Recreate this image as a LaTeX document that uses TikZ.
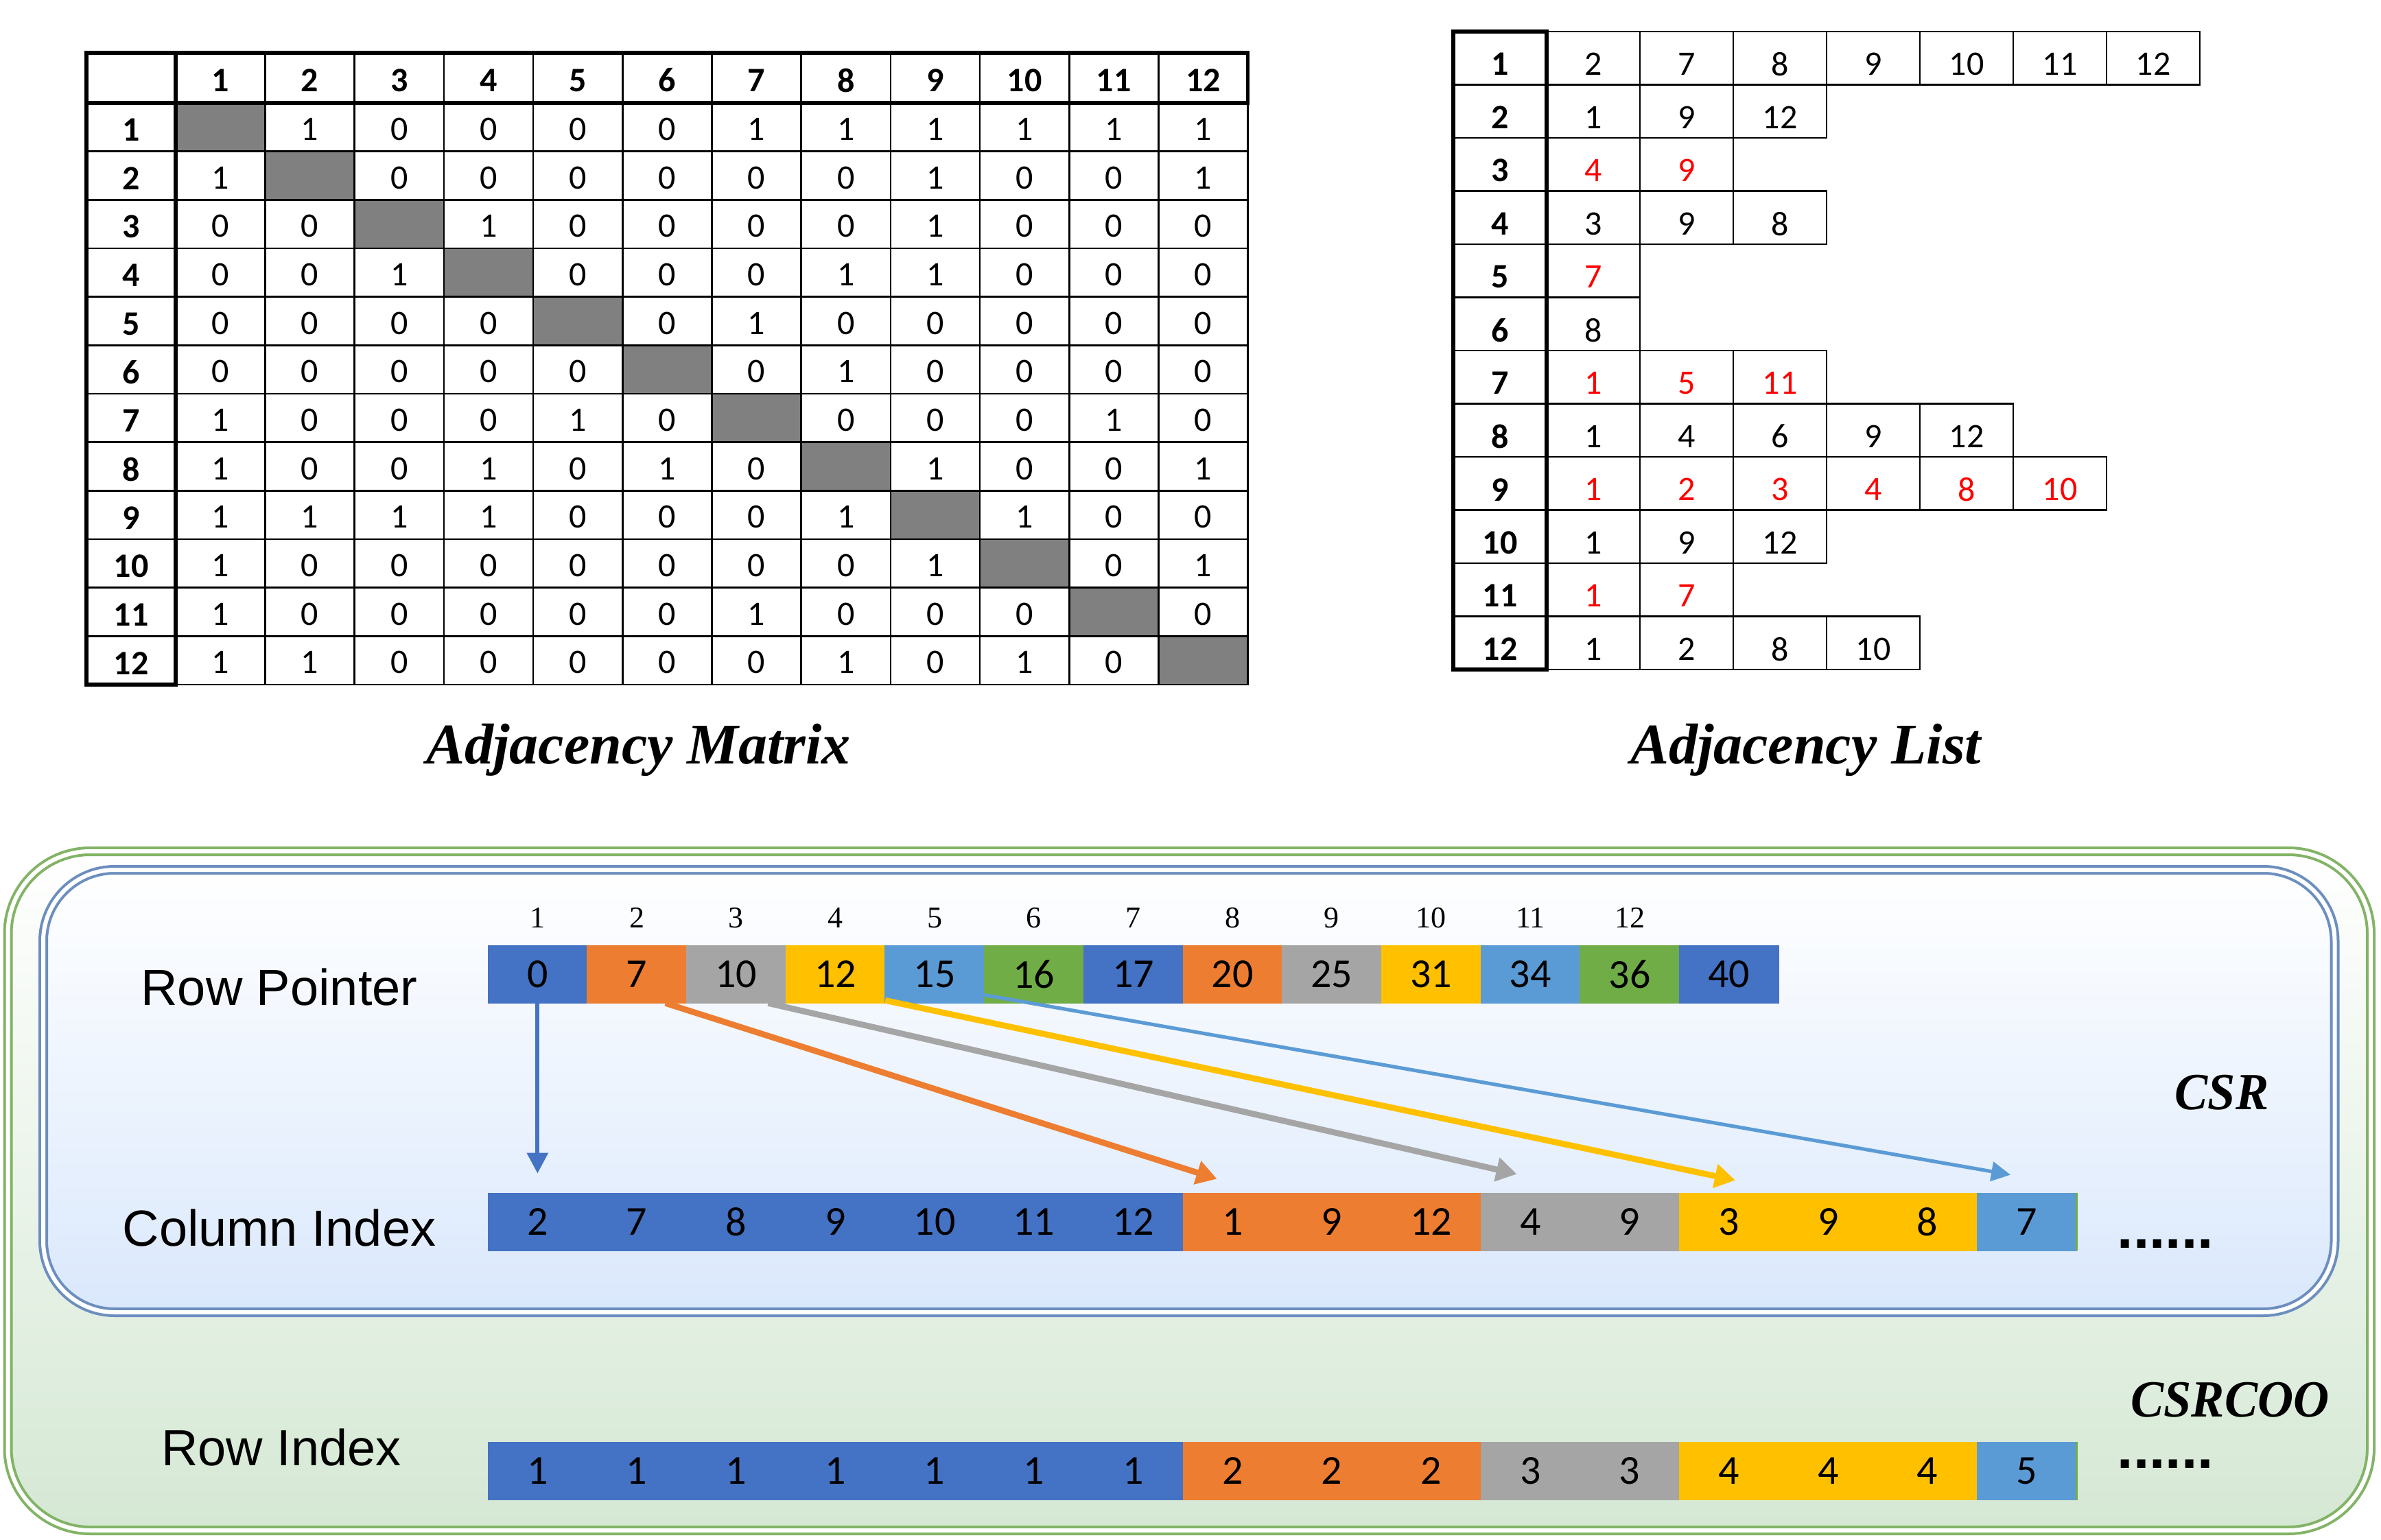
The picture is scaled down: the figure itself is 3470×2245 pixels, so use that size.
\documentclass[tikz,border=0pt]{standalone}
\usepackage{fontspec}
\usepackage{graphicx}
\setmainfont{Liberation Serif}
\newfontfamily\calfont{Carlito}
\newfontfamily\arialfont{Liberation Sans}
\usetikzlibrary{arrows.meta,calc}
\definecolor{cblue}{HTML}{4472C4}
\definecolor{corange}{HTML}{ED7D31}
\definecolor{cgray}{HTML}{A5A5A5}
\definecolor{cyellow}{HTML}{FFC000}
\definecolor{clblue}{HTML}{5B9BD5}
\definecolor{cgreen}{HTML}{70AD47}
\definecolor{diag}{HTML}{808080}
\definecolor{boxgreen}{HTML}{82B366}
\definecolor{boxblue}{HTML}{6C8EBF}
\definecolor{fillgreen}{HTML}{D5E8D4}
\definecolor{fillblue}{HTML}{DAE8FC}
\definecolor{red}{HTML}{FF0000}
\newcommand\rd[1]{\textcolor{red}{#1}}
\tikzset{
  thinln/.style={line width=0.65pt, black},
  thickln/.style={line width=1.4pt, black},
  mcell/.style={inner sep=0pt, font=\calfont\fontsize{12.5pt}{15pt}\selectfont},
  mhead/.style={inner sep=0pt, font=\calfont\bfseries\fontsize{12.5pt}{15pt}\selectfont},
  acell/.style={rectangle, inner sep=0pt, minimum width=36.175pt, minimum height=21pt,
     font=\calfont\fontsize{15pt}{18pt}\selectfont, text=black},
  idx/.style={inner sep=0pt, font=\fontsize{11pt}{13pt}\selectfont},
  lab/.style={inner sep=0pt, font=\arialfont\fontsize{18.5pt}{22pt}\selectfont},
  capt/.style={inner sep=0pt, anchor=base, font=\bfseries\itshape\fontsize{21pt}{25pt}\selectfont},
  fmt/.style={inner sep=0pt, anchor=base, font=\bfseries\itshape\fontsize{19pt}{23pt}\selectfont},
  dotsty/.style={inner sep=0pt, anchor=base west, font=\arialfont\bfseries\fontsize{21pt}{21pt}\selectfont},
  arrbase/.style={line cap=butt},
}
\begin{document}
\begin{tikzpicture}[x=0.25pt,y=-0.25pt]
\useasboundingbox (0,0) rectangle (3470,2245);

% ================= Adjacency matrix =================
\foreach \rr in {1,...,12}
  \fill[diag] ({126+\rr*130.2},{150+(\rr-1)*70.67}) rectangle +(130.2,70.67);
\foreach \k in {1,...,12}
  \draw[thinln] ({126+\k*130.2},77) -- ({126+\k*130.2},998);
\foreach \k in {1,...,11}
  \draw[thinln] (126,{150+\k*70.67}) -- (1818.6,{150+\k*70.67});
\draw[thinln] (1818.6,150) -- (1818.6,998) -- (126,998);
\draw[thickln] (126,77) rectangle (1818.6,150);
\draw[thickln] (126,77) rectangle (256.2,998);
\foreach \cc in {1,...,12}
  \node[mhead] (mh\cc) at ({126+(\cc+0.5)*130.2},117) {\cc};
\foreach \rr in {1,...,12}
  \node[mhead] (mr\rr) at (191,{150+(\rr-0.5)*70.67+4}) {\rr};
\foreach \rr/\row in {
1/{-,1,0,0,0,0,1,1,1,1,1,1},
2/{1,-,0,0,0,0,0,0,1,0,0,1},
3/{0,0,-,1,0,0,0,0,1,0,0,0},
4/{0,0,1,-,0,0,0,1,1,0,0,0},
5/{0,0,0,0,-,0,1,0,0,0,0,0},
6/{0,0,0,0,0,-,0,1,0,0,0,0},
7/{1,0,0,0,1,0,-,0,0,0,1,0},
8/{1,0,0,1,0,1,0,-,1,0,0,1},
9/{1,1,1,1,0,0,0,1,-,1,0,0},
10/{1,0,0,0,0,0,0,0,1,-,0,1},
11/{1,0,0,0,0,0,1,0,0,0,-,0},
12/{1,1,0,0,0,0,0,1,0,1,0,-}}{
  \foreach \vv [count=\cc] in \row {
    \ifnum\cc=\rr\relax\else
      \node[mcell] (m\rr-\cc) at ({126+(\cc+0.5)*130.2},{150+(\rr-0.5)*70.67+3}) {\vv};
    \fi
  }
}
\node[capt] (capM) at (930.5,1113) {Adjacency Matrix};

% ================= Adjacency list =================
\foreach \rr/\row in {
1/{2,7,8,9,10,11,12},
2/{1,9,12},
3/{\rd{4},\rd{9}},
4/{3,9,8},
5/{\rd{7}},
6/{8},
7/{\rd{1},\rd{5},\rd{11}},
8/{1,4,6,9,12},
9/{\rd{1},\rd{2},\rd{3},\rd{4},\rd{8},\rd{10}},
10/{1,9,12},
11/{\rd{1},\rd{7}},
12/{1,2,8,10}}{
  \draw[thinln] (2118,{46+(\rr-1)*77.5}) rectangle +(136,77.5);
  \node[mhead] (lh\rr) at (2186,{46+(\rr-0.5)*77.5+9}) {\rr};
  \foreach \vv [count=\cc] in \row {
    \draw[thinln] ({2254+(\cc-1)*136},{46+(\rr-1)*77.5}) rectangle +(136,77.5);
    \node[mcell] (l\rr-\cc) at ({2254+(\cc-0.5)*136},{46+(\rr-0.5)*77.5+9}) {\vv};
  }
}
\draw[thickln] (2118,46) rectangle (2254,976);
\node[capt] (capL) at (2631.5,1113) {Adjacency List};

% ================= CSR / CSRCOO boxes =================
\path[draw=boxgreen, double=white, line width=1pt, double distance=1.5pt,
      top color=white, bottom color=fillgreen, rounded corners=30pt]
  (11.5,1241) rectangle (3455,2231);
\path[draw=boxblue, double=white, line width=1pt, double distance=1.5pt,
      top color=white, bottom color=fillblue, rounded corners=26pt]
  (63,1268) rectangle (3402.5,1913);

% labels
\node[lab] (lrp) at (407,1439) {Row Pointer};
\node[lab] (lci) at (407,1790) {Column Index};
\node[lab] (lri) at (410,2110) {Row Index};
\node[fmt] (csr) at (3238,1617) {\scalebox{0.95}[1]{CSR}};
\node[fmt] (csrcoo) at (3250,2065) {\scalebox{0.95}[1]{CSRCOO}};

% Row pointer
\foreach \vv/\col [count=\ii] in {0/cblue,7/corange,10/cgray,12/cyellow,15/clblue,16/cgreen,
    17/cblue,20/corange,25/cgray,31/cyellow,34/clblue,36/cgreen,40/cblue}
  \node[acell, fill=\col, draw=\col, line width=0.2pt] (rp\ii) at ({711+(\ii-0.5)*144.7},1420) {\vv};
\foreach \ii in {1,...,12}
  \node[idx] (ix\ii) at ({711+(\ii-0.5)*144.7},1338) {\ii};

% Column index
\foreach \vv/\col [count=\ii] in {2/cblue,7/cblue,8/cblue,9/cblue,10/cblue,11/cblue,12/cblue,
    1/corange,9/corange,12/corange,4/cgray,9/cgray,3/cyellow,9/cyellow,8/cyellow,7/clblue}
  \node[acell, fill=\col, draw=\col, line width=0.2pt] (ci\ii) at ({711+(\ii-0.5)*144.7},1781) {\vv};
\draw[cgreen, line width=0.7pt] (ci16.north east) -- (ci16.south east);

% Row index
\foreach \vv/\col [count=\ii] in {1/cblue,1/cblue,1/cblue,1/cblue,1/cblue,1/cblue,1/cblue,
    2/corange,2/corange,2/corange,3/cgray,3/cgray,4/cyellow,4/cyellow,4/cyellow,5/clblue}
  \node[acell, fill=\col, draw=\col, line width=0.2pt] (ri\ii) at ({711+(\ii-0.5)*144.7},2144.5) {\vv};
\draw[cgreen, line width=0.7pt] (ri16.north east) -- (ri16.south east);

% dots
\node[dotsty] (dots1) at (3085,1819) {......};
\node[dotsty] (dots2) at (3085,2140) {......};

% arrows
\draw[arrbase, cblue, line width=1.5pt, -{Triangle[length=7.5pt,width=7.5pt]}]
  (rp1.south) -- ($(ci1.north)+(0,-28)$);
\draw[arrbase, corange, line width=2.2pt, -{Triangle[length=7.5pt,width=8.5pt]}]
  ($(rp2.south east)+(-31,0)$) -- ($(ci8.north west)+(50,-20)$);
\draw[arrbase, cgray, line width=2.2pt, -{Triangle[length=7.5pt,width=8.5pt]}]
  ($(rp3.south east)+(-26,0)$) -- ($(ci11.north west)+(53,-27)$);
\draw[arrbase, cyellow, line width=2.2pt, -{Triangle[length=7.5pt,width=8.5pt]}]
  ($(rp4.south east)+(0,-4)$) -- ($(ci13.north west)+(82,-18)$);
\draw[arrbase, clblue, line width=1.3pt, -{Triangle[length=7pt,width=7pt]}]
  ($(rp6.south west)+(0,-12)$) -- ($(ci16.north west)+(49,-26)$);
\end{tikzpicture}
\end{document}
